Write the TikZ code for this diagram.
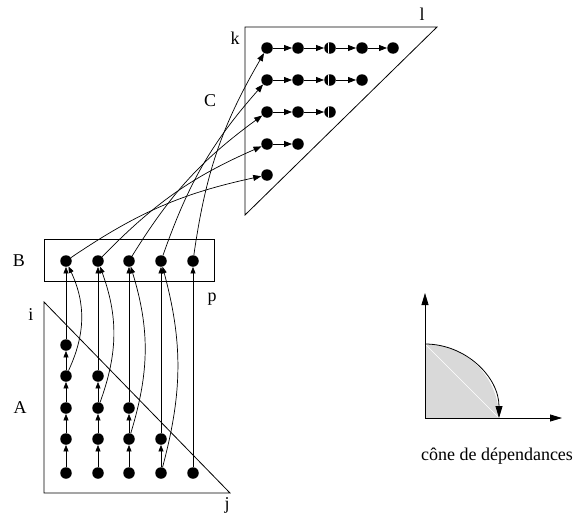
\documentclass[tikz,border=0pt]{standalone}
\usepackage{fontspec}
\setmainfont{Liberation Serif}
\usetikzlibrary{arrows.meta}
\tikzset{
  dotnode/.style={circle,fill=black,inner sep=0pt,minimum size=11.5pt},
  halfdot/.style={dotnode,path picture={\draw[white,line width=1.3pt]
      ([xshift=-1.2pt]path picture bounding box.north) -- ([xshift=-1.2pt]path picture bounding box.south);}},
  lbl/.style={font=\fontsize{18}{20}\selectfont,inner sep=0pt},
  arrA/.style={-{Triangle[length=6.5pt,width=5pt]},line width=0.7pt},
  arrC/.style={-{Triangle[length=8pt,width=6pt]},line width=0.7pt},
  axarr/.style={-{Triangle[length=12pt,width=7pt]},line width=0.8pt},
  frame/.style={line width=0.8pt},
}
\begin{document}
\begin{tikzpicture}[x=1pt,y=-1pt]
\useasboundingbox (0,0) rectangle (575,522);

% region shapes
\draw[frame] (44,302) -- (44,493) -- (230,493) -- cycle;
\draw[frame] (44,239) rectangle (214,281);
\draw[frame] (245,27) -- (437,27) -- (245,215) -- cycle;

% labels
\node[lbl] (lA) at (20,408) {A};
\node[lbl] (lB) at (19,261) {B};
\node[lbl] (lC) at (210,101) {C};
\node[lbl] (li) at (31,315) {i};
\node[lbl] (lj) at (227,505) {j};
\node[lbl] (lk) at (235,38) {k};
\node[lbl] (ll) at (422,14) {l};
\node[lbl] (lp) at (212,299) {p};

% dots of A
\foreach \c/\x in {1/66,2/98,3/129,4/161,5/193}{
  \foreach \r/\y in {1/473,2/439,3/408,4/376,5/345}{
    \pgfmathtruncatemacro{\lim}{6-\c}
    \ifnum\r>\lim\else
      \node[dotnode] (a\c\r) at (\x,\y) {};
    \fi
  }
}
% dots of B
\foreach \c/\x in {1/66,2/98,3/129,4/161,5/193}{
  \node[dotnode] (b\c) at (\x,261) {};
}
% dots of C
\foreach \r/\y in {1/48,2/80,3/112,4/144,5/175}{
  \foreach \k/\x in {1/267,2/298,3/330,4/362,5/393}{
    \pgfmathtruncatemacro{\lim}{6-\r}
    \ifnum\k>\lim\else
      \ifnum\k=3
        \node[halfdot] (c\r\k) at (\x,\y) {};
      \else
        \node[dotnode] (c\r\k) at (\x,\y) {};
      \fi
    \fi
  }
}

% vertical arrows in A
\draw[arrA] (a11) -- (a12);
\draw[arrA] (a12) -- (a13);
\draw[arrA] (a13) -- (a14);
\draw[arrA] (a14) -- (a15);
\draw[arrA] (a21) -- (a22);
\draw[arrA] (a22) -- (a23);
\draw[arrA] (a23) -- (a24);
\draw[arrA] (a31) -- (a32);
\draw[arrA] (a32) -- (a33);
\draw[arrA] (a41) -- (a42);

% A -> B straight
\draw[arrA] (a15) -- (b1);
\draw[arrA] (a24) -- (b2);
\draw[arrA] (a33) -- (b3);
\draw[arrA] (a42) -- (b4);
\draw[arrA] (a51) -- (b5);
% A -> B curved
\draw[arrA] (a14) to[bend right=25] (b1);
\draw[arrA] (a23) to[bend right=20] (b2);
\draw[arrA] (a32) to[bend right=17] (b3);
\draw[arrA] (a41) to[bend right=15] (b4);

% B -> C
\draw[arrC] (b1) to[bend left=11] (c51);
\draw[arrC] (b2) to[bend left=11] (c41);
\draw[arrC] (b3) to[bend left=11] (c31);
\draw[arrC] (b4) to[bend left=11] (c21);
\draw[arrC] (b5) to[bend left=11] (c11);

% arrows in C
\draw[arrC] (c11) -- (c12);
\draw[arrC] (c12) -- (c13);
\draw[arrC] (c13) -- (c14);
\draw[arrC] (c14) -- (c15);
\draw[arrC] (c21) -- (c22);
\draw[arrC] (c22) -- (c23);
\draw[arrC] (c23) -- (c24);
\draw[arrC] (c31) -- (c32);
\draw[arrC] (c32) -- (c33);
\draw[arrC] (c41) -- (c42);

% cone
\coordinate (o) at (425,418);
\coordinate (ctop) at (425,344);
\coordinate (cright) at (499,418);
\coordinate (ytip) at (425,293);
\coordinate (xtip) at (562,418);
\fill[black!15] (o) -- (ctop) arc[start angle=-90,end angle=0,radius=74] -- cycle;
\draw[white,line width=0.6pt] (ctop) -- (cright);
\draw[axarr] (o) -- (ytip);
\draw[axarr] (o) -- (xtip);
\draw[axarr] (ctop) arc[start angle=-90,end angle=0,radius=74];
\node[lbl] (cone) at (497,456) {cône de dépendances};
\end{tikzpicture}
\end{document}
